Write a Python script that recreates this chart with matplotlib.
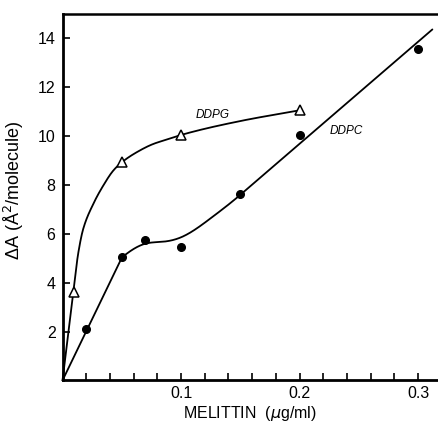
import matplotlib
matplotlib.use("Agg")
import matplotlib.pyplot as plt
import numpy as np

# ---- data ----
ddpg_x = [0.01, 0.05, 0.10, 0.20]
ddpg_y = [3.6, 8.95, 10.05, 11.06]
ddpc_x = [0.02, 0.05, 0.07, 0.10, 0.15, 0.20, 0.30]
ddpc_y = [2.1, 5.05, 5.75, 5.45, 7.63, 10.05, 13.55]

# hand-drawn fit curves:
# straight start from origin, smooth middle, (DDPC) straight end
ddpg_fit_start = [0.0, 0.0]
ddpg_fit_x = [0.009, 0.0133, 0.0175, 0.026, 0.0344, 0.0428, 0.05, 0.0625,
              0.0765, 0.0906, 0.10, 0.15, 0.20]
ddpg_fit_y = [3.6, 5.22, 6.21, 7.23, 7.98, 8.59, 8.93, 9.34,
              9.68, 9.9, 10.05, 10.62, 11.06]

ddpc_fit_start = [0.0, 0.0]
ddpc_fit_x = [0.05, 0.07, 0.085, 0.10, 0.125, 0.15]
ddpc_fit_y = [5.03, 5.6, 5.68, 5.86, 6.64, 7.6]
ddpc_fit_slopes = [40.0, 41.8]
ddpc_fit_end = [0.312, 14.37]

xticks = [0.1, 0.2, 0.3]
xtick_labels = ["0.1", "0.2", "0.3"]
yticks = [2, 4, 6, 8, 10, 12, 14]

plt.rcParams["font.family"] = ["Liberation Sans", "DejaVu Sans"]


def pchip(xk, yk, xs):
    xk = np.asarray(xk, float)
    yk = np.asarray(yk, float)
    h = np.diff(xk)
    delta = np.diff(yk) / h
    n = len(xk)
    d = np.zeros(n)
    for k in range(1, n - 1):
        if delta[k - 1] * delta[k] > 0:
            w1 = 2 * h[k] + h[k - 1]
            w2 = h[k] + 2 * h[k - 1]
            d[k] = (w1 + w2) / (w1 / delta[k - 1] + w2 / delta[k])
    d[0] = delta[0]
    d[-1] = delta[-1]
    idx = np.clip(np.searchsorted(xk, xs) - 1, 0, n - 2)
    t = (xs - xk[idx]) / h[idx]
    h00 = 2 * t**3 - 3 * t**2 + 1
    h10 = t**3 - 2 * t**2 + t
    h01 = -2 * t**3 + 3 * t**2
    h11 = t**3 - t**2
    return (h00 * yk[idx] + h10 * h[idx] * d[idx]
            + h01 * yk[idx + 1] + h11 * h[idx] * d[idx + 1])


def clamped_spline(xk, yk, s0, s1, xs):
    xk = np.asarray(xk, float)
    yk = np.asarray(yk, float)
    n = len(xk)
    h = np.diff(xk)
    A = np.zeros((n, n))
    b = np.zeros(n)
    A[0, 0] = 2 * h[0]
    A[0, 1] = h[0]
    b[0] = 6 * ((yk[1] - yk[0]) / h[0] - s0)
    A[-1, -2] = h[-1]
    A[-1, -1] = 2 * h[-1]
    b[-1] = 6 * (s1 - (yk[-1] - yk[-2]) / h[-1])
    for i in range(1, n - 1):
        A[i, i - 1] = h[i - 1]
        A[i, i] = 2 * (h[i - 1] + h[i])
        A[i, i + 1] = h[i]
        b[i] = 6 * ((yk[i + 1] - yk[i]) / h[i] - (yk[i] - yk[i - 1]) / h[i - 1])
    M = np.linalg.solve(A, b)
    idx = np.clip(np.searchsorted(xk, xs) - 1, 0, n - 2)
    x0, x1 = xk[idx], xk[idx + 1]
    hh = h[idx]
    return (M[idx] * (x1 - xs) ** 3 / (6 * hh) + M[idx + 1] * (xs - x0) ** 3 / (6 * hh)
            + (yk[idx] / hh - M[idx] * hh / 6) * (x1 - xs)
            + (yk[idx + 1] / hh - M[idx + 1] * hh / 6) * (xs - x0))


fig = plt.figure(figsize=(4.39, 4.26), dpi=100)
ax = fig.add_axes([0.1424, 0.107, 0.856, 0.86])

ax.set_xlim(0, 0.317)
ax.set_ylim(0, 15.0)

line_kw = dict(color="black", lw=1.3, clip_on=False, solid_capstyle="round",
               solid_joinstyle="round")

# DDPG fit
xs = np.linspace(ddpg_fit_x[0], ddpg_fit_x[-1], 1200)
ys = pchip(ddpg_fit_x, ddpg_fit_y, xs)
ax.plot(np.r_[ddpg_fit_start[0], xs], np.r_[ddpg_fit_start[1], ys], **line_kw)

# DDPC fit
xs = np.linspace(ddpc_fit_x[0], ddpc_fit_x[-1], 800)
ys = clamped_spline(ddpc_fit_x, ddpc_fit_y, *ddpc_fit_slopes, xs)
ax.plot(np.r_[ddpc_fit_start[0], xs, ddpc_fit_end[0]],
        np.r_[ddpc_fit_start[1], ys, ddpc_fit_end[1]], **line_kw)

ax.plot(ddpg_x, ddpg_y, linestyle="none", marker="^", markersize=6.5,
        markerfacecolor="white", markeredgecolor="black", markeredgewidth=1.1, zorder=5)
ax.plot(ddpc_x, ddpc_y, linestyle="none", marker="o", markersize=5.5,
        color="black", zorder=5)

ax.text(0.127, 10.86, "DDPG", fontsize=8.5, style="italic", ha="center", va="center")
ax.text(0.239, 10.2, "DDPC", fontsize=8.5, style="italic", ha="center", va="center")

ax.set_xticks(np.arange(0.02, 0.301, 0.02), minor=True)
ax.set_xticks(xticks)
ax.set_xticklabels(xtick_labels)
ax.set_yticks(yticks)
ax.tick_params(axis="both", which="both", direction="in", length=5, width=1.2,
               labelsize=11.5)
ax.tick_params(axis="x", which="major", pad=4)
ax.tick_params(axis="y", which="major", pad=5)

ax.spines["right"].set_visible(False)
ax.spines["left"].set_linewidth(2.0)
ax.spines["bottom"].set_linewidth(2.0)
ax.spines["top"].set_linewidth(1.8)

ax.set_xlabel("MELITTIN  ($\\mu$g/ml)", fontsize=11.5, labelpad=2)
ax.set_ylabel("ΔA (Å$^2$/molecule)", fontsize=13)
ax.yaxis.set_label_coords(-0.097, 0.518)

fig.savefig("out.png", dpi=100)
